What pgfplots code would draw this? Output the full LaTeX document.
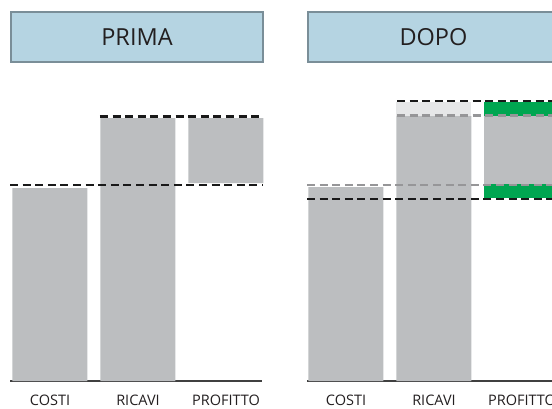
\documentclass[border=0pt]{standalone}
\usepackage{pgfplots}
\pgfplotsset{compat=1.18}
\usepackage{fontspec}
\setmainfont{Open Sans}
\definecolor{bargray}{RGB}{188,190,192}
\definecolor{lightbar}{RGB}{230,231,232}
\definecolor{bargreen}{RGB}{0,166,81}
\definecolor{titlefill}{RGB}{181,212,226}
\definecolor{titledraw}{RGB}{122,142,152}
\definecolor{txt}{RGB}{35,31,32}
\definecolor{dashgray}{RGB}{150,150,152}
\begin{document}
\begin{tikzpicture}[x=1pt,y=1pt]
\useasboundingbox (0,0) rectangle (552,408);
\clip (0,0) rectangle (552,408);
% title boxes
\draw[titledraw, line width=2pt, fill=titlefill] (11,346) rectangle (263,396);
\node[txt, font=\fontsize{23.5}{28}\selectfont] at (137,371) {PRIMA};
\draw[titledraw, line width=2pt, fill=titlefill] (308,346) rectangle (559,396);
\node[txt, font=\fontsize{23.5}{28}\selectfont] at (433.5,371) {DOPO};
\pgfplotsset{
  panel/.style={
    scale only axis, x=88pt, y=1pt, ymin=0, ymax=300,
    clip=false, anchor=south west,
    axis x line=bottom, axis y line=none,
    axis line style={draw=black!75, line width=1.3pt, -},
    xtick={0,1,2}, xticklabels={COSTI,RICAVI,PROFITTO},
    major tick length=0pt,
    xticklabel style={anchor=base, yshift=-24pt, text=txt, font=\fontsize{14.5}{17}\selectfont},
    ybar stacked, bar width=75pt,
  },
  overlay/.style={
    scale only axis, x=88pt, y=1pt, ymin=0, ymax=300,
    clip=false, anchor=south west, hide axis,
  },
  blk/.style={black!90, line width=2.9pt, dash pattern=on 8pt off 4.6pt},
  gry/.style={dashgray, line width=2.2pt, dash pattern=on 8pt off 4.6pt},
}
% PRIMA
\begin{axis}[panel, at={(10pt,27pt)}, xmin=-0.4545, xmax=2.409]
\addplot[draw=none, fill=none] coordinates {(0,0) (1,0) (2,198)};
\addplot[draw=none, fill=bargray] coordinates {(0,193) (1,263) (2,65)};
\end{axis}
\begin{axis}[overlay, at={(10pt,27pt)}, xmin=-0.4545, xmax=2.409]
\addplot[blk, no marks] coordinates {(-0.4545,196) (2.42,196)};
\addplot[blk, no marks] coordinates {(0.568,264.5) (2.42,264.5)};
\end{axis}
% DOPO
\begin{axis}[panel, at={(307pt,27pt)}, xmin=-0.443, xmax=2.45]
\addplot[draw=none, fill=none] coordinates {(0,0) (1,0) (2,183)};
\addplot[draw=none, fill=bargray] coordinates {(0,194) (1,265) (2,0)};
\addplot[draw=none, fill=bargreen] coordinates {(0,0) (1,0) (2,14)};
\addplot[draw=none, fill=bargray] coordinates {(0,0) (1,0) (2,68)};
\addplot[draw=none, fill=lightbar] coordinates {(0,0) (1,14) (2,0)};
\addplot[draw=none, fill=bargreen] coordinates {(0,0) (1,0) (2,14)};
\end{axis}
\begin{axis}[overlay, at={(307pt,27pt)}, xmin=-0.443, xmax=2.45]
\addplot[gry, no marks] coordinates {(-0.443,196) (2.5,196)};
\addplot[blk, no marks] coordinates {(-0.443,182) (2.5,182)};
\addplot[gry, no marks] coordinates {(0.58,265.5) (2.5,265.5)};
\addplot[blk, no marks] coordinates {(0.58,280) (2.5,280)};
\end{axis}
\end{tikzpicture}
\end{document}
